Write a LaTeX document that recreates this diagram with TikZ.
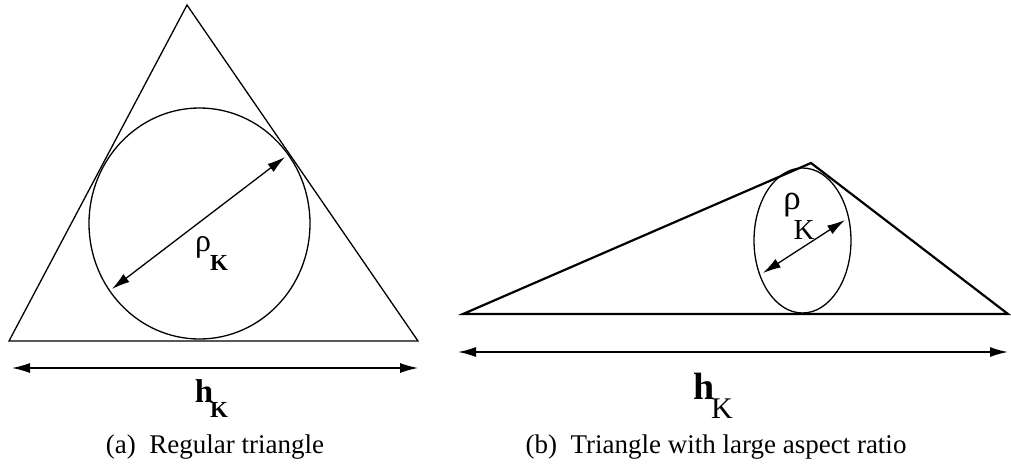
\documentclass[tikz,border=0pt]{standalone}
\usepackage{fontspec}
\setmainfont{Liberation Serif}
\usetikzlibrary{arrows.meta}
\tikzset{
  thinline/.style={line width=0.65pt},
  thickline/.style={line width=1.1pt},
  dimarrow/.style={{Latex[length=9pt,width=5pt]}-{Latex[length=9pt,width=5pt]}},
  caption/.style={font=\fontsize{13.5}{16}\selectfont}
}
\begin{document}
\begin{tikzpicture}[x=0.5pt,y=-0.5pt]
            \useasboundingbox (0,0) rectangle (1011,466);

            % Regular triangle
             \coordinate (aA) at (9,341);
             \coordinate (aB) at (418,341);
             \coordinate (aC) at (187,5);
             \draw[thinline] (aA) -- (aB) -- (aC) -- cycle;

            % Inscribed circle
             \draw[thinline] (199.5,223.5) ellipse (110.5 and 115.5);
             \coordinate (aR1) at (112,289);
             \coordinate (aR2) at (285,157);
             \draw[thinline, dimarrow] (aR1) -- (aR2);
             \node (arho) at (203,247) {\fontsize{16}{19}\selectfont ρ};
             \node (arhoK) at (219,263) {\fontsize{11.5}{14}\selectfont\bfseries K};

            % Width h_K
             \coordinate (aH1) at (12,368);
             \coordinate (aH2) at (418,368);
             \draw[thinline, dimarrow] (aH1) -- (aH2);
             \node (ah) at (204,391) {\fontsize{16.5}{19}\selectfont\bfseries h};
             \node (ahK) at (219,410) {\fontsize{11.5}{14}\selectfont\bfseries K};

             \node[caption] (capa) at (215,447) {(a)\enspace Regular triangle};

            % Triangle with large aspect ratio
             \coordinate (bA) at (463,314);
             \coordinate (bB) at (1008,314);
             \coordinate (bC) at (811,163);
             \draw[thickline, line join=miter] (bA) -- (bB) -- (bC) -- cycle;

            % Inscribed ellipse
             \draw[thinline] (802.5,240.5) ellipse (48.5 and 72.5);
             \coordinate (bR1) at (763,273);
             \coordinate (bR2) at (845,220);
             \draw[thinline, dimarrow] (bR1) -- (bR2);
             \node (brho) at (792,205) {\fontsize{17.5}{20}\selectfont ρ};
             \node (brhoK) at (804,230) {\fontsize{14.5}{17}\selectfont K};

            % Width h_K
             \coordinate (bH1) at (458,352);
             \coordinate (bH2) at (1008,352);
             \draw[line width=0.8pt, dimarrow] (bH1) -- (bH2);
             \node (bh) at (704,386) {\fontsize{19}{22}\selectfont\bfseries h};
             \node (bhK) at (722,409) {\fontsize{15}{18}\selectfont K};

             \node[caption] (capb) at (716,447) {(b)\enspace Triangle with large aspect ratio};

        \end{tikzpicture}
\end{document}
